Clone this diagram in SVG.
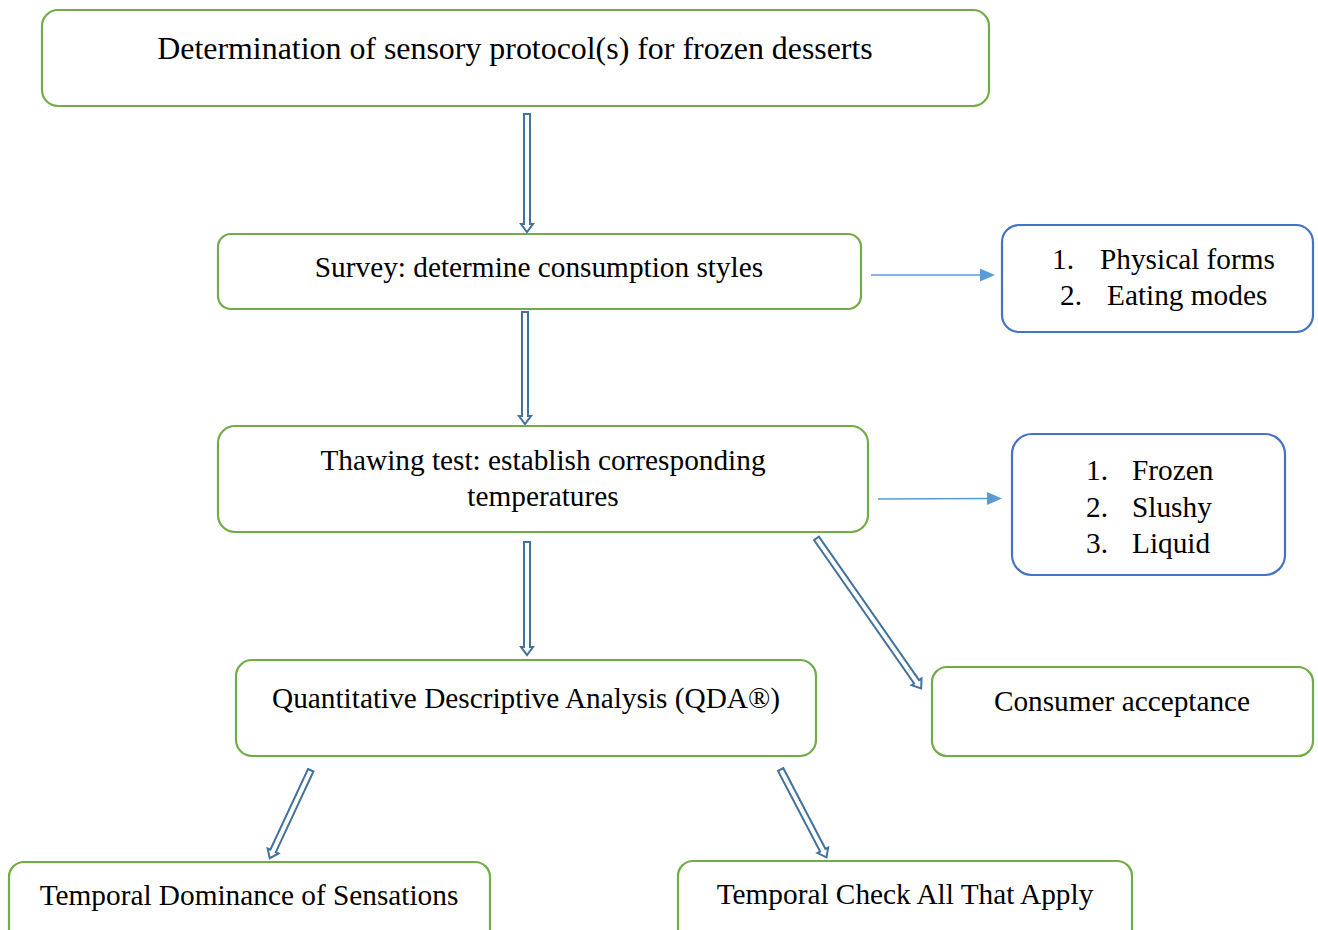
<svg xmlns="http://www.w3.org/2000/svg" width="1318" height="930" viewBox="0 0 1318 930">
<defs>
<style>
.g{fill:#fff;stroke:#70AD47;stroke-width:2.2}
.b{fill:#fff;stroke:#4472C4;stroke-width:2.2}
.t{font-family:"Liberation Serif","Times New Roman",serif;font-size:29.3px;fill:#000}
.big{font-size:31.9px}
.ha{fill:#fff;stroke:#41719C;stroke-width:2}
.ln{stroke:#5B9BD5;stroke-width:1.3;fill:none}
.ah{fill:#5B9BD5}
</style>
</defs>
<rect width="1318" height="930" fill="#fff"/>
<g id="connectors">
<polygon class="ha" points="524,114 530,114 530,224 533,224 527,232 521,224 524,224"/>
<polygon class="ha" points="522,312 528,312 528,416 531,416 525,424 519,416 522,416"/>
<polygon class="ha" points="524,542 530,542 530,647 533,647 527,655 521,647 524,647"/>
<polygon class="ha" points="0,0 6,0 6,175 9,175 3,183 -3,175 0,175" transform="translate(814,540) rotate(-34.9)"/>
<polygon class="ha" points="0,0 6,0 6,89 9,89 3,97 -3,89 0,89" transform="translate(308,769) rotate(25)"/>
<polygon class="ha" points="0,0 6,0 6,91 9,91 3,99 -3,91 0,91" transform="translate(778,771) rotate(-27.6)"/>
<line class="ln" x1="871" y1="275" x2="982" y2="275"/>
<polygon class="ah" points="995,275 980,268.5 980,281.5"/>
<line class="ln" x1="878" y1="499" x2="989" y2="498.5"/>
<polygon class="ah" points="1002,498.5 987,492 987,505"/>
</g>
<g id="n1"><rect class="g" x="42" y="10" width="947" height="96" rx="16"/><text class="t big" x="515" y="59" text-anchor="middle">Determination of sensory protocol(s) for frozen desserts</text></g>
<g id="n2"><rect class="g" x="218" y="234" width="643" height="75" rx="13"/><text class="t" x="539" y="277" text-anchor="middle">Survey: determine consumption styles</text></g>
<g id="n3"><rect class="g" x="218" y="426" width="650" height="106" rx="17"/><text class="t" x="543" y="470" text-anchor="middle">Thawing test: establish corresponding</text><text class="t" x="543" y="506" text-anchor="middle">temperatures</text></g>
<g id="n4"><rect class="g" x="236" y="660" width="580" height="96" rx="16"/><text class="t" x="526" y="708" text-anchor="middle">Quantitative Descriptive Analysis (QDA®)</text></g>
<g id="n5"><rect class="g" x="932" y="667" width="381" height="89" rx="15"/><text class="t" x="1122" y="711" text-anchor="middle">Consumer acceptance</text></g>
<g id="n6"><rect class="g" x="9" y="862" width="481" height="90" rx="15"/><text class="t" x="249" y="905" text-anchor="middle">Temporal Dominance of Sensations</text></g>
<g id="n7"><rect class="g" x="678" y="861" width="454" height="90" rx="15"/><text class="t" x="905" y="904" text-anchor="middle">Temporal Check All That Apply</text></g>
<g id="n8"><rect class="b" x="1002" y="225" width="311" height="107" rx="17"/><text class="t" x="1052" y="269">1.</text><text class="t" x="1100" y="269">Physical forms</text><text class="t" x="1060" y="305">2.</text><text class="t" x="1107" y="305">Eating modes</text></g>
<g id="n9"><rect class="b" x="1012" y="434" width="273" height="141" rx="20"/><text class="t" x="1086" y="480">1.</text><text class="t" x="1132" y="480">Frozen</text><text class="t" x="1086" y="517">2.</text><text class="t" x="1132" y="517">Slushy</text><text class="t" x="1086" y="553">3.</text><text class="t" x="1132" y="553">Liquid</text></g>
</svg>
